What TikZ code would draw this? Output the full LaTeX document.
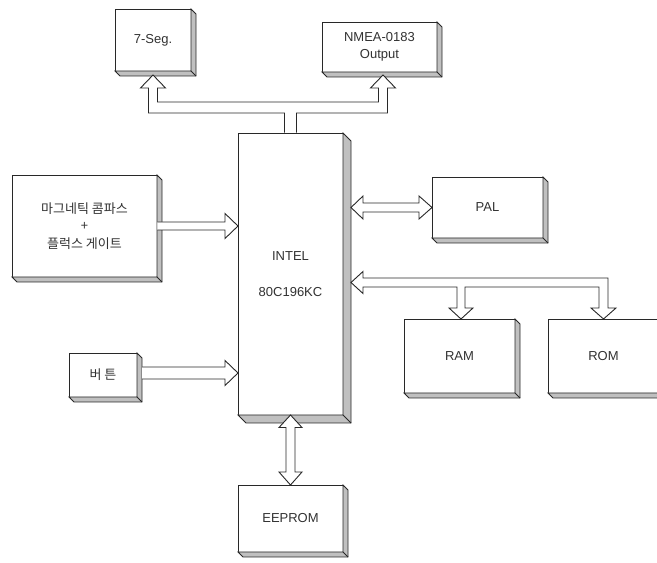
\documentclass[tikz,border=0pt]{standalone}
\usepackage{fontspec}
\setmainfont{Liberation Sans}
\newfontfamily\krfont{Noto Sans CJK KR}
\definecolor{SideGray}{RGB}{192, 192, 192}
\definecolor{LineGray}{RGB}{40, 40, 40}
\definecolor{TextGray}{RGB}{50, 50, 50}
\usetikzlibrary{calc, positioning}

\begin{document}
\begin{tikzpicture}[
        x=1pt, y=1pt,
        box/.style={draw=LineGray, fill=white, rectangle, line width=0.8pt, inner sep=0pt, outer sep=0pt, align=center, text=TextGray, font=\fontsize{13}{16.5}\selectfont},
        kr/.style={font=\krfont\fontsize{13}{17.5}\selectfont},
        side/.style={draw=LineGray, fill=SideGray, line width=0.8pt},
        barrow/.style={draw=LineGray, fill=white, line width=0.9pt, line join=miter}
      ]
        \useasboundingbox (0,0) rectangle (657,563);

        % blocks
        \node (seg) [box, minimum width=76pt, minimum height=62pt] at (153,523) {7-Seg.};
        \node (nmea) [box, minimum width=115pt, minimum height=50pt] at (379.5,516) {NMEA-0183\\Output};
        \node (intel) [box, minimum width=105pt, minimum height=282pt] at (290.5,289) {INTEL\\[19pt]80C196KC};
        \node (comp) [box, kr, minimum width=145pt, minimum height=102pt] at (84.5,337) {마그네틱 콤파스\\+\\플럭스 게이트};
        \node (btn) [box, kr, minimum width=68pt, minimum height=44pt] at (103,188) {버 튼};
        \node (pal) [box, minimum width=111pt, minimum height=61pt] at (487.5,355.5) {PAL};
        \node (ram) [box, minimum width=111pt, minimum height=74pt] at (459.5,207) {RAM};
        \node (rom) [box, minimum width=111pt, minimum height=74pt, right=33pt of ram] {ROM};
        \node (eeprom) [box, minimum width=105pt, minimum height=67pt, below=70pt of intel] {EEPROM};

        % raised edges
        \foreach \nm/\dep in {seg/5, nmea/5, comp/5, btn/5, pal/5, ram/5, rom/5, eeprom/5, intel/8} {
          \draw [side] (\nm.north east) -- ([shift={(\dep,-\dep)}]\nm.north east) -- ([shift={(\dep,-\dep)}]\nm.south east)
            -- ([shift={(\dep,-\dep)}]\nm.south west) -- (\nm.south west) -- (\nm.south east) -- cycle;
          \draw [side] (\nm.south east) -- ([shift={(\dep,-\dep)}]\nm.south east);
        }

        % bus to 7-Seg. and NMEA
        \draw [barrow] let \p1=(seg.south), \p2=(nmea.south), \p3=(intel.north) in
          (\x3-6pt,\y3+0.4pt) -- (\x3-6pt,\y3+20pt) -- (\x1-4.5pt,\y3+20pt) -- (\x1-4.5pt,\y1-17pt)
          -- (\x1-12.5pt,\y1-17pt) -- (\x1,\y1-4pt) -- (\x1+12.5pt,\y1-17pt) -- (\x1+4.5pt,\y1-17pt)
          -- (\x1+4.5pt,\y3+31pt) -- (\x2-1pt,\y3+31pt) -- (\x2-1pt,\y2-16pt)
          -- (\x2-9pt,\y2-16pt) -- (\x2+3.5pt,\y2-3pt) -- (\x2+16pt,\y2-16pt) -- (\x2+8pt,\y2-16pt)
          -- (\x2+8pt,\y3+20pt) -- (\x3+6pt,\y3+20pt) -- (\x3+6pt,\y3+0.4pt);

        % compass to INTEL
        \draw [barrow] let \p1=(comp.east), \p2=(intel.west) in
          (\x1+0.4pt,\y1+4pt) -- (\x2-13pt,\y1+4pt) -- (\x2-13pt,\y1+12.5pt) -- (\x2,\y1)
          -- (\x2-13pt,\y1-12.5pt) -- (\x2-13pt,\y1-4pt) -- (\x1+0.4pt,\y1-4pt);

        % button to INTEL
        \draw [barrow] let \p1=([shift={(5,2)}]btn.east), \p2=(intel.west) in
          (\x1,\y1+6pt) -- (\x2-13pt,\y1+6pt) -- (\x2-13pt,\y1+12.5pt) -- (\x2,\y1)
          -- (\x2-13pt,\y1-12.5pt) -- (\x2-13pt,\y1-6pt) -- (\x1,\y1-6pt);

        % INTEL <-> PAL
        \draw [barrow] let \p1=(intel.east), \p2=(pal.west) in
          (\x1+8pt,\y2) -- (\x1+20pt,\y2+11.5pt) -- (\x1+20pt,\y2+4.5pt) -- (\x2-13pt,\y2+4.5pt)
          -- (\x2-13pt,\y2+11.5pt) -- (\x2,\y2) -- (\x2-13pt,\y2-11.5pt) -- (\x2-13pt,\y2-4.5pt)
          -- (\x1+20pt,\y2-4.5pt) -- (\x1+20pt,\y2-11.5pt) -- cycle;

        % INTEL <-> RAM, ROM
        \draw [barrow] let \p1=(intel.east), \p2=(ram.north), \p3=(rom.north), \p4=([yshift=36.5pt]ram.north) in
          (\x1+8pt,\y4) -- (\x1+20pt,\y4+11pt) -- (\x1+20pt,\y4+4.5pt) -- (\x3+4.5pt,\y4+4.5pt)
          -- (\x3+4.5pt,\y3+11pt) -- (\x3+12.5pt,\y3+11pt) -- (\x3,\y3) -- (\x3-12.5pt,\y3+11pt) -- (\x3-4.5pt,\y3+11pt)
          -- (\x3-4.5pt,\y4-4.5pt) -- (\x2+5.5pt,\y4-4.5pt)
          -- (\x2+5.5pt,\y2+11pt) -- (\x2+13.5pt,\y2+11pt) -- (\x2+1.5pt,\y2) -- (\x2-10.5pt,\y2+11pt) -- (\x2-2.5pt,\y2+11pt)
          -- (\x2-2.5pt,\y4-4.5pt) -- (\x1+20pt,\y4-4.5pt) -- (\x1+20pt,\y4-11pt) -- cycle;

        % INTEL <-> EEPROM
        \draw [barrow] let \p1=(intel.south), \p2=(eeprom.north) in
          (\x1,\y1) -- (\x1+11.5pt,\y1-12.5pt) -- (\x1+4.5pt,\y1-12.5pt) -- (\x1+4.5pt,\y2+13pt)
          -- (\x1+11.5pt,\y2+13pt) -- (\x1,\y2) -- (\x1-11.5pt,\y2+13pt) -- (\x1-4.5pt,\y2+13pt)
          -- (\x1-4.5pt,\y1-12.5pt) -- (\x1-11.5pt,\y1-12.5pt) -- cycle;
      \end{tikzpicture}
\end{document}
